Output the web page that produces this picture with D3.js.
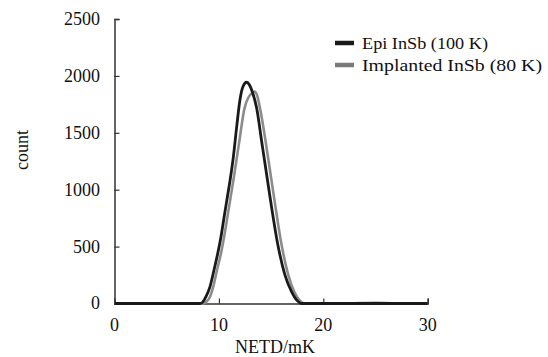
<!DOCTYPE html>
<html><head><meta charset="utf-8">
<script src="https://cdn.jsdelivr.net/npm/d3@7"></script>
<style>body{margin:0;background:#fff}svg{display:block}text{font-family:"Liberation Serif","Times New Roman",serif;fill:#111}</style>
</head><body>
<script>
const seriesNames = ["Epi InSb (100 K)", "Implanted InSb (80 K)"];
const epiX =  [0, 4, 7.5, 8.2, 8.45, 8.76, 9.15, 9.53, 9.89, 10.20, 10.50, 10.80, 11.10, 11.40, 11.70, 12.00, 12.30, 12.66, 12.93, 13.20, 13.62, 14.10, 14.58, 15.06, 15.59, 16.33, 16.97, 17.50, 17.9, 19, 22, 26, 30];
const epiY =  [0, 0, 0,   0,   12,   60,   148,  294,  441,  587,   760,   930,   1100,  1300,  1550,  1780,  1905,  1944,  1920,  1861,  1715,  1422,  1129,  837,   543,   250,   103,   25,    0,   0,  0,  0,  0];
const implX = [0, 4, 7.8, 8.5, 8.8, 9.15, 9.46, 9.82, 10.20, 10.50, 10.95, 11.45, 11.95, 12.45, 12.82, 13.15, 13.46, 13.70, 13.94, 14.48, 14.96, 15.44, 15.95, 16.65, 17.22, 17.75, 18.2, 19, 22, 25, 27, 30];
const implY = [0, 0, 0,   0,   15,  60,   148,  294,  441,   587,   837,   1120,  1422,  1715,  1810,  1848,  1862,  1815,  1715,  1422,  1129,  837,   543,   250,   103,   25,    0,   0,  0,  6,  0,  0];
const xTicks = [0, 10, 20, 30];
const yTicks = [0, 500, 1000, 1500, 2000, 2500];
const xLabel = "NETD/mK";
const yLabel = "count";

const W = 548, H = 357;
const svg = d3.select("body").append("svg").attr("width", W).attr("height", H);
const x = d3.scaleLinear().domain([0, 30]).range([114.5, 427.7]);
const y = d3.scaleLinear().domain([0, 2500]).range([303.5, 19]);

const axCol = "#333";
// y axis
const gy = svg.append("g").attr("transform", `translate(${x(0)},0)`)
  .call(d3.axisRight(y).tickValues(yTicks).tickSize(5).tickFormat(""));
gy.select(".domain").attr("stroke", axCol).attr("stroke-width", 1.5);
gy.selectAll(".tick line").attr("stroke", axCol).attr("stroke-width", 1.2);
svg.append("g").selectAll("text").data(yTicks).join("text")
  .attr("x", 100).attr("y", d => y(d)).attr("dy", "0.33em")
  .attr("text-anchor", "end").attr("font-size", 18).text(d => d);

// x axis
const gx = svg.append("g").attr("transform", `translate(0,${y(0)})`)
  .call(d3.axisTop(x).tickValues(xTicks.filter(d => d > 0)).tickSize(5).tickFormat(""));
gx.select(".domain").attr("stroke", axCol).attr("stroke-width", 1.5);
gx.selectAll(".tick line").attr("stroke", axCol).attr("stroke-width", 1.2);
svg.append("g").selectAll("text").data(xTicks).join("text")
  .attr("x", d => x(d)).attr("y", 331)
  .attr("text-anchor", "middle").attr("font-size", 18).text(d => d);

svg.append("text").attr("x", 275).attr("y", 353).attr("text-anchor", "middle")
  .attr("font-size", 18).text(xLabel);
svg.append("text").attr("transform", "translate(28,150) rotate(-90)")
  .attr("text-anchor", "middle").attr("font-size", 18).text(yLabel);

const line = d3.line().x(d => x(d[0])).y(d => y(d[1])).curve(d3.curveMonotoneX);
const implData = implX.map((v, i) => [v, implY[i]]);
const epiData = epiX.map((v, i) => [v, epiY[i]]);
svg.append("path").datum(implData).attr("d", line).attr("fill", "none")
  .attr("stroke", "#8c8c8c").attr("stroke-width", 2.6);
svg.append("path").datum(epiData).attr("d", line).attr("fill", "none")
  .attr("stroke", "#1a1a1a").attr("stroke-width", 2.8);

// legend
const leg = [{name: seriesNames[0], col: "#1a1a1a", yy: 43, w: 126}, {name: seriesNames[1], col: "#7a7a7a", yy: 65, w: 180}];
const lg = svg.append("g");
lg.selectAll("line").data(leg).join("line")
  .attr("x1", 335).attr("x2", 354).attr("y1", d => d.yy).attr("y2", d => d.yy)
  .attr("stroke", d => d.col).attr("stroke-width", 4.5);
lg.selectAll("text").data(leg).join("text")
  .attr("x", 362).attr("y", d => d.yy).attr("dy", "0.35em")
  .attr("font-size", 16.5).attr("textLength", d => d.w).attr("lengthAdjust", "spacingAndGlyphs").text(d => d.name);
</script>
</body></html>
